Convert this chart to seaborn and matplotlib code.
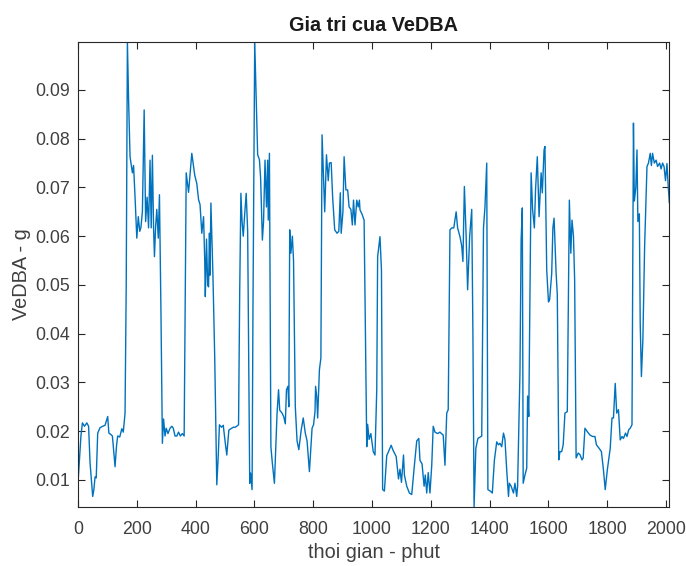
import matplotlib
matplotlib.use("Agg")
import matplotlib.pyplot as plt
import seaborn as sns
import pandas as pd

# time in minutes
minutes = [
    0, 10, 15, 22, 30, 36, 41, 46, 50, 54, 58, 62, 67, 75, 84, 92, 101, 105, 112, 117,
    126, 131, 135, 142, 149, 154, 160, 164, 168, 172, 177, 185, 189, 194, 200, 205, 210, 214, 219, 225,
    230, 235, 240, 245, 249, 253, 257, 260, 264, 268, 273, 277, 282, 287, 291, 296, 300, 306, 313, 319,
    324, 330, 336, 342, 348, 355, 361, 368, 372, 376, 380, 387, 397, 404, 410, 415, 421, 427, 431, 433,
    437, 441, 444, 447, 449, 452, 459, 465, 472, 477, 481, 488, 494, 501, 506, 513, 520, 528, 535, 546,
    550, 554, 558, 562, 567, 572, 577, 584, 587, 592, 595, 601, 606, 611, 617, 621, 627, 631, 636, 641,
    645, 647, 651, 656, 661, 668, 677, 682, 686, 694, 700, 705, 709, 714, 717, 720, 724, 729, 733, 739,
    745, 751, 759, 766, 773, 779, 787, 796, 801, 806, 808, 812, 815, 821, 826, 830, 836, 839, 845, 851,
    855, 861, 866, 873, 881, 887, 892, 895, 901, 905, 911, 917, 922, 928, 933, 937, 942, 948, 953, 957,
    959, 966, 973, 982, 985, 990, 996, 1004, 1010, 1016, 1019, 1027, 1032, 1036, 1042, 1050, 1056, 1065, 1072, 1082,
    1090, 1095, 1100, 1107, 1110, 1118, 1127, 1135, 1144, 1152, 1159, 1163, 1170, 1177, 1181, 1186, 1191, 1197, 1203, 1208,
    1214, 1223, 1231, 1236, 1242, 1248, 1254, 1259, 1265, 1271, 1278, 1286, 1291, 1299, 1305, 1309, 1314, 1320, 1325, 1332,
    1339, 1343, 1347, 1353, 1360, 1368, 1373, 1379, 1384, 1390, 1394, 1402, 1409, 1416, 1424, 1430, 1435, 1441, 1447, 1452,
    1458, 1464, 1467, 1473, 1481, 1486, 1492, 1495, 1503, 1507, 1511, 1514, 1520, 1526, 1529, 1533, 1541, 1546, 1552, 1556,
    1562, 1568, 1575, 1579, 1585, 1588, 1594, 1600, 1604, 1611, 1615, 1619, 1626, 1630, 1635, 1639, 1645, 1650, 1656, 1664,
    1671, 1676, 1680, 1685, 1689, 1694, 1701, 1707, 1714, 1718, 1724, 1732, 1741, 1750, 1758, 1763, 1772, 1780, 1787, 1793,
    1800, 1810, 1816, 1821, 1827, 1832, 1838, 1844, 1850, 1855, 1862, 1867, 1873, 1878, 1884, 1889, 1892, 1897, 1901, 1904,
    1909, 1912, 1916, 1921, 1927, 1935, 1940, 1946, 1950, 1954, 1960, 1966, 1971, 1978, 1983, 1988, 1993, 1998, 2003, 2007,
    2011,
]

# VeDBA in g
vedba = [
    0.0094, 0.0190, 0.0217, 0.0210, 0.0217, 0.0210, 0.0135, 0.0095, 0.0066, 0.0080, 0.0106, 0.0104, 0.0196, 0.0207, 0.0210, 0.0212, 0.0230, 0.0196, 0.0193, 0.0190,
    0.0127, 0.0170, 0.0190, 0.0188, 0.0205, 0.0198, 0.0237, 0.0500, 0.0999, 0.0880, 0.0763, 0.0730, 0.0745, 0.0680, 0.0596, 0.0640, 0.0610, 0.0618, 0.0650, 0.0859,
    0.0630, 0.0680, 0.0617, 0.0756, 0.0617, 0.0766, 0.0617, 0.0558, 0.0620, 0.0655, 0.0596, 0.0685, 0.0450, 0.0175, 0.0225, 0.0190, 0.0206, 0.0195, 0.0206, 0.0210,
    0.0206, 0.0190, 0.0190, 0.0198, 0.0190, 0.0195, 0.0190, 0.0730, 0.0710, 0.0690, 0.0720, 0.0770, 0.0725, 0.0708, 0.0675, 0.0665, 0.0606, 0.0640, 0.0550, 0.0476,
    0.0594, 0.0500, 0.0496, 0.0606, 0.0520, 0.0668, 0.0517, 0.0350, 0.0090, 0.0150, 0.0213, 0.0208, 0.0212, 0.0175, 0.0151, 0.0202, 0.0205, 0.0208, 0.0208, 0.0213,
    0.0490, 0.0688, 0.0630, 0.0600, 0.0646, 0.0688, 0.0610, 0.0093, 0.0114, 0.0080, 0.0450, 0.0999, 0.0880, 0.0767, 0.0757, 0.0720, 0.0592, 0.0630, 0.0756, 0.0660,
    0.0756, 0.0633, 0.0770, 0.0168, 0.0134, 0.0093, 0.0237, 0.0285, 0.0243, 0.0237, 0.0229, 0.0215, 0.0285, 0.0292, 0.0250, 0.0613, 0.0565, 0.0600, 0.0550, 0.0250,
    0.0180, 0.0162, 0.0202, 0.0227, 0.0196, 0.0180, 0.0117, 0.0206, 0.0213, 0.0240, 0.0292, 0.0270, 0.0227, 0.0326, 0.0350, 0.0808, 0.0700, 0.0650, 0.0767, 0.0714,
    0.0750, 0.0751, 0.0680, 0.0613, 0.0606, 0.0610, 0.0689, 0.0606, 0.0650, 0.0763, 0.0695, 0.0695, 0.0660, 0.0655, 0.0623, 0.0674, 0.0623, 0.0674, 0.0660, 0.0674,
    0.0654, 0.0645, 0.0633, 0.0168, 0.0214, 0.0183, 0.0195, 0.0158, 0.0151, 0.0285, 0.0558, 0.0599, 0.0530, 0.0080, 0.0077, 0.0150, 0.0158, 0.0171, 0.0160, 0.0148,
    0.0102, 0.0122, 0.0095, 0.0151, 0.0110, 0.0087, 0.0073, 0.0070, 0.0130, 0.0180, 0.0185, 0.0140, 0.0133, 0.0087, 0.0110, 0.0073, 0.0115, 0.0073, 0.0130, 0.0210,
    0.0198, 0.0195, 0.0198, 0.0195, 0.0192, 0.0130, 0.0237, 0.0244, 0.0613, 0.0617, 0.0617, 0.0650, 0.0617, 0.0599, 0.0580, 0.0548, 0.0702, 0.0600, 0.0490, 0.0600,
    0.0655, 0.0400, 0.0045, 0.0165, 0.0185, 0.0188, 0.0190, 0.0617, 0.0660, 0.0750, 0.0080, 0.0077, 0.0073, 0.0140, 0.0178, 0.0172, 0.0175, 0.0168, 0.0196, 0.0183,
    0.0120, 0.0066, 0.0093, 0.0087, 0.0073, 0.0093, 0.0066, 0.0087, 0.0320, 0.0592, 0.0658, 0.0093, 0.0110, 0.0124, 0.0272, 0.0230, 0.0730, 0.0655, 0.0617, 0.0695,
    0.0763, 0.0640, 0.0730, 0.0689, 0.0777, 0.0784, 0.0531, 0.0465, 0.0470, 0.0524, 0.0617, 0.0637, 0.0524, 0.0480, 0.0141, 0.0158, 0.0158, 0.0172, 0.0237, 0.0240,
    0.0674, 0.0565, 0.0633, 0.0600, 0.0510, 0.0145, 0.0155, 0.0152, 0.0141, 0.0145, 0.0206, 0.0199, 0.0192, 0.0189, 0.0189, 0.0172, 0.0165, 0.0158, 0.0120, 0.0080,
    0.0120, 0.0165, 0.0227, 0.0227, 0.0298, 0.0237, 0.0244, 0.0182, 0.0189, 0.0185, 0.0196, 0.0189, 0.0203, 0.0206, 0.0213, 0.0832, 0.0672, 0.0700, 0.0777, 0.0630,
    0.0646, 0.0421, 0.0312, 0.0387, 0.0580, 0.0743, 0.0750, 0.0770, 0.0745, 0.0770, 0.0750, 0.0756, 0.0743, 0.0750, 0.0738, 0.0750, 0.0743, 0.0714, 0.0749, 0.0705,
    0.0668,
]

x_ticks = [0, 200, 400, 600, 800, 1000, 1200, 1400, 1600, 1800, 2000]
y_ticks = [0.01, 0.02, 0.03, 0.04, 0.05, 0.06, 0.07, 0.08, 0.09]
y_tick_labels = ["0.01", "0.02", "0.03", "0.04", "0.05", "0.06", "0.07", "0.08", "0.09"]

title_text = "Gia tri cua VeDBA"
x_label = "thoi gian - phut"
y_label = "VeDBA - g"

sns.set_theme(style="white")
plt.rcParams["font.family"] = ["Liberation Sans", "DejaVu Sans"]

df = pd.DataFrame({"t": minutes, "v": vedba})

fig = plt.figure(figsize=(6.86, 5.66), dpi=100)
ax = fig.add_axes([0.1137, 0.1048, 0.9757 - 0.1137, 0.9263 - 0.1048])

sns.lineplot(data=df, x="t", y="v", ax=ax, color="#0072BD", linewidth=1.0,
             estimator=None, sort=False)

ax.set_xlim(0, max(minutes))
ax.set_ylim(min(vedba), max(vedba))
ax.set_xticks(x_ticks)
ax.set_xticklabels([str(t) for t in x_ticks])
ax.set_yticks(y_ticks)
ax.set_yticklabels(y_tick_labels)

axcol = "#262626"
for s in ax.spines.values():
    s.set_visible(True)
    s.set_color(axcol)
    s.set_linewidth(0.8)

ax.tick_params(axis="both", which="both", direction="in", length=5, width=0.8,
               color=axcol, labelcolor="#404040", labelsize=12.8,
               top=True, right=True, bottom=True, left=True)
ax.tick_params(axis="x", pad=10)
ax.tick_params(axis="y", pad=6)

ax.set_title(title_text, fontsize=14.3, fontweight="bold", color="#1a1a1a", pad=8)
ax.set_xlabel(x_label, fontsize=14.3, color="#404040", labelpad=4)
ax.set_ylabel(y_label, fontsize=14.3, color="#404040", labelpad=3)
ax.grid(False)

fig.savefig("out.png", dpi=100, facecolor="white")
